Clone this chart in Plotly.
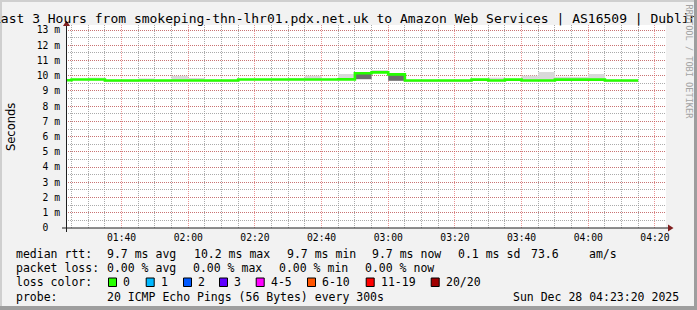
import plotly.graph_objects as go
import pandas as pd

# ---------------- data ----------------
title_text = "Last 3 Hours from smokeping-thn-lhr01.pdx.net.uk to Amazon Web Services | AS16509 | Dublin"
interval_start = "2025-12-28 01:20:00"
window = ["2025-12-28 01:23:20", "2025-12-28 04:23:20"]

median_ms = [9.70, 9.75, 9.75, 9.68, 9.68, 9.68, 9.68, 9.68, 9.68, 9.68, 9.68,
             9.75, 9.75, 9.75, 9.75, 9.75, 9.75, 9.76, 10.16, 10.22, 10.09,
             9.68, 9.68, 9.68, 9.68, 9.74, 9.68, 9.74, 9.68, 9.68, 9.74, 9.74, 9.74,
             9.68, 9.68]
smoke_hi_ms = [9.72, 9.78, 9.87, 9.71, 9.71, 9.82, 9.71, 9.99, 9.85, 9.71, 9.71,
               9.78, 9.78, 9.78, 9.85, 10.00, 9.78, 10.11, 10.20, 10.37, 10.15,
               9.71, 9.71, 9.71, 9.71, 9.77, 9.87, 9.77, 10.00, 10.24, 9.93, 9.92, 10.11,
               9.71, 9.71]
smoke_lo_ms = [9.66, 9.72, 9.72, 9.65, 9.65, 9.65, 9.65, 9.65, 9.65, 9.65, 9.65,
               9.72, 9.72, 9.72, 9.72, 9.72, 9.72, 9.72, 9.74, 10.17, 9.65,
               9.65, 9.65, 9.65, 9.65, 9.71, 9.65, 9.71, 9.65, 9.65, 9.71, 9.71, 9.71,
               9.65, 9.65]
dense_hi_ms = [None] * 18 + [10.13, None, 10.04] + [None] * 14
dense_lo_ms = [None] * 18 + [9.78, None, 9.67] + [None] * 14

y_tick_vals = list(range(0, 14))
y_tick_text = ["0\u00a0\u00a0"] + [f"{v} m" for v in range(1, 14)]

stats_rtt = ["median rtt:", "9.7 ms avg", "10.2 ms max", "9.7 ms min", "9.7 ms now",
             "0.1 ms sd", "73.6", "am/s"]
stats_loss = ["packet loss:", "0.00 % avg", "0.00 % max", "0.00 % min", "0.00 % now"]
loss_labels = ["0", "1", "2", "3", "4-5", "6-10", "11-19", "20/20"]
loss_colors = ["#26ff00", "#00b8ff", "#0059ff", "#5e00ff", "#ff00ff", "#ff5500", "#ff0000", "#a10000"]
probe_row = ["probe:", "20 ICMP Echo Pings (56 Bytes) every 300s", "Sun Dec 28 04:23:20 2025"]

# ---------------- layout constants (pixels) ----------------
W, H = 697, 310
PL, PT, PW, PH = 66, 25, 600, 203          # plot area
MONO = "DejaVu Sans Mono"

def px(x):
    return (x - PL) / PW

def py(y):
    return (PT + PH - y) / PH

starts = pd.date_range(interval_start, periods=len(median_ms), freq="5min")
step = pd.Timedelta(minutes=5)
centers = starts + step / 2
width_ms = step.total_seconds() * 1000

fig = go.Figure()

# outer smoke
fig.add_trace(go.Bar(
    x=centers, base=smoke_lo_ms,
    y=[h - l for h, l in zip(smoke_hi_ms, smoke_lo_ms)],
    width=width_ms, marker=dict(color="#d9d9d9", line=dict(width=0)),
    hoverinfo="skip", showlegend=False))

# dense smoke
dx, db, dy = [], [], []
for c, lo, hi in zip(centers, dense_lo_ms, dense_hi_ms):
    if lo is not None and hi is not None:
        dx.append(c); db.append(lo); dy.append(hi - lo)
fig.add_trace(go.Bar(
    x=dx, base=db, y=dy, width=width_ms,
    marker=dict(color="#6c6c6c", line=dict(width=0)),
    hoverinfo="skip", showlegend=False))

# median step line
fig.add_trace(go.Scatter(
    x=list(starts) + [starts[-1] + step], y=median_ms + [median_ms[-1]],
    mode="lines", line=dict(color=loss_colors[0], width=2.6, shape="hv"),
    hoverinfo="skip", showlegend=False))

grid_minor = "rgba(143,143,143,0.75)"
grid_major = "rgba(222,79,79,0.6)"

fig.update_layout(
    width=W, height=H,
    margin=dict(l=PL, r=W - PL - PW, t=PT, b=H - PT - PH, pad=0),
    paper_bgcolor="#f2f2f2", plot_bgcolor="#ffffff",
    barmode="overlay", showlegend=False,
    font=dict(family=MONO, color="#000000"),
    xaxis=dict(
        type="date", range=window, tickformat="%H:%M",
        tick0="2025-12-28 00:00:00", dtick=20 * 60 * 1000,
        showgrid=True, gridcolor=grid_major, griddash="1px,1px", gridwidth=1,
        minor=dict(tick0="2025-12-28 00:00:00", dtick=5 * 60 * 1000, showgrid=True,
                   gridcolor=grid_minor, griddash="1px,1px", gridwidth=1),
        ticks="", showline=False, zeroline=False,
        tickfont=dict(family=MONO, size=9.7, color="#000000"),
        ticklabelstandoff=2, fixedrange=True),
    yaxis=dict(
        range=[0, PH / 15.23], tickmode="array", tickvals=y_tick_vals, ticktext=y_tick_text,
        showgrid=True, gridcolor=grid_major, griddash="1px,1px", gridwidth=1,
        minor=dict(dtick=0.5, showgrid=True, gridcolor=grid_minor, griddash="1px,1px", gridwidth=1),
        ticks="", showline=False, zeroline=False,
        tickfont=dict(family=MONO, size=9.7, color="#000000"),
        ticklabelstandoff=5, fixedrange=True),
)

shapes = []
axis_col = "#1f1f1f"
arrow_col = "#801f1f"
# axes lines
shapes.append(dict(type="line", xref="paper", yref="paper", x0=px(62), x1=px(669), y0=py(228), y1=py(228),
                   line=dict(color=axis_col, width=1)))
shapes.append(dict(type="line", xref="paper", yref="paper", x0=px(66.5), x1=px(66.5), y0=py(232), y1=py(25),
                   line=dict(color=axis_col, width=1)))
# arrows
shapes.append(dict(type="path", xref="paper", yref="paper",
                   path=f"M {px(668)},{py(224.5)} L {px(673.5)},{py(228)} L {px(668)},{py(231.5)} Z",
                   fillcolor=arrow_col, line=dict(width=0)))
shapes.append(dict(type="path", xref="paper", yref="paper",
                   path=f"M {px(63)},{py(26)} L {px(66.5)},{py(20.5)} L {px(70)},{py(26)} Z",
                   fillcolor=arrow_col, line=dict(width=0)))
# frame
shapes.append(dict(type="rect", xref="paper", yref="paper", x0=px(0), x1=px(697), y0=py(0), y1=py(2),
                   fillcolor="#cfcfcf", line=dict(width=0)))
shapes.append(dict(type="rect", xref="paper", yref="paper", x0=px(0), x1=px(2), y0=py(0), y1=py(310),
                   fillcolor="#cfcfcf", line=dict(width=0)))
shapes.append(dict(type="rect", xref="paper", yref="paper", x0=px(0), x1=px(697), y0=py(306), y1=py(310),
                   fillcolor="#9e9e9e", line=dict(width=0)))

annotations = []

def text(x, y, s, size=11.5, family=MONO, color="#000000", xanchor="left", angle=0):
    annotations.append(dict(xref="paper", yref="paper", x=px(x), y=py(y), text=s, showarrow=False,
                            xanchor=xanchor, yanchor="middle", textangle=angle,
                            font=dict(family=family, size=size, color=color),
                            borderpad=0, borderwidth=0))

# title
text(-7.5, 18.7, title_text, size=13)
# y label
text(11, 127, "Seconds", size=11.5, family="DejaVu Sans", xanchor="center", angle=-90)
# watermark
text(688.5, 62, "RRDTOOL / TOBI OETIKER", size=8.6, color="#a3a3a3", xanchor="center", angle=90)
# right frame strip (drawn over the title's clipped end, as in the original)
annotations.append(dict(xref="paper", yref="paper", x=px(693.5), y=py(0), xanchor="left", yanchor="top",
                        text=" ", showarrow=False, width=4, height=310, bgcolor="#9e9e9e",
                        borderpad=0, borderwidth=0, font=dict(size=1)))

# rows
rtt_x = [16, 107.3, 194, 286.7, 372.3, 458.3, 531, 589]
for x, s in zip(rtt_x, stats_rtt):
    text(x, 254, s)
loss_x = [16, 107.3, 193.3, 279.3, 365]
for x, s in zip(loss_x, stats_loss):
    text(x, 268.3, s)
text(16, 282.3, "loss color:")
box_x = [108, 145.7, 183, 219, 255.7, 307, 365.7, 430.7]
for x, lab, col in zip(box_x, loss_labels, loss_colors):
    shapes.append(dict(type="rect", xref="paper", yref="paper", x0=px(x + 0.5), x1=px(x + 8.5),
                       y0=py(278), y1=py(286.5), fillcolor=col, line=dict(color="#000000", width=1)))
    text(x + 15, 282.3, lab)
probe_x = [16, 107.3, 513.3]
for x, s in zip(probe_x, probe_row):
    text(x, 296.7, s)

fig.update_layout(shapes=shapes, annotations=annotations)
fig.write_html("out.html", config=dict(displayModeBar=False))
